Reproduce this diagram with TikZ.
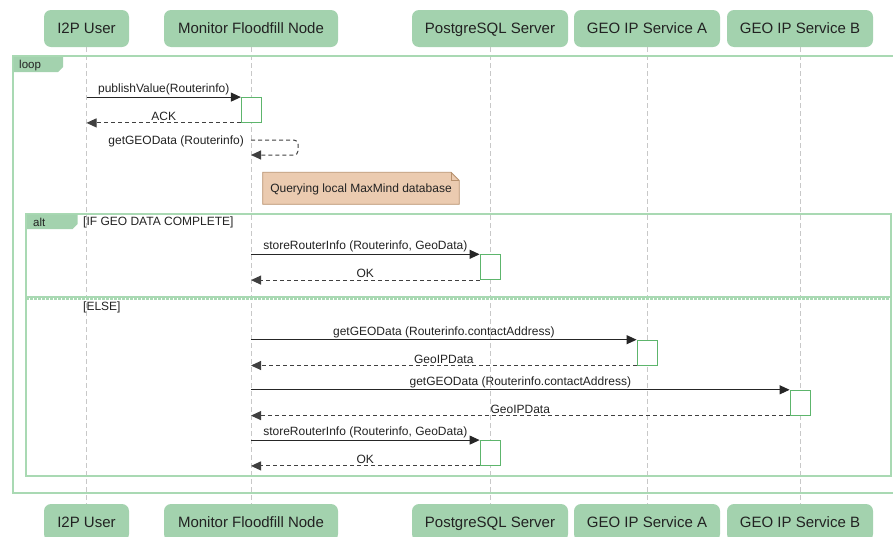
\documentclass[tikz,border=0pt]{standalone}
\usepackage{fontspec}
\setmainfont{Liberation Sans}
\usetikzlibrary{arrows.meta}

\definecolor{hdr}{HTML}{A3D2AE}
\definecolor{frm}{HTML}{A9D9B3}
\definecolor{act}{HTML}{5DB56C}
\definecolor{notefill}{HTML}{EBCBB0}
\definecolor{noteline}{HTML}{B8926F}
\definecolor{life}{HTML}{C8C8C8}
\definecolor{txt}{HTML}{222222}

\begin{document}
\begin{tikzpicture}[x=1pt,y=-1pt,
 participant/.style={fill=hdr, rounded corners=7pt, minimum height=37pt, inner sep=0pt, text height=13pt, text depth=3pt, font=\fontsize{15}{18}\selectfont, text=txt},
 lifeline/.style={draw=life, dash pattern=on 5pt off 3pt, line width=0.8pt},
 actbox/.style={draw=act, fill=white, line width=0.8pt, minimum width=20pt, minimum height=25pt, inner sep=0pt},
 call/.style={draw=black!85, line width=1pt, -{Triangle[length=10pt,width=9pt]}},
 reply/.style={draw=black!75, line width=1pt, dash pattern=on 4pt off 3pt, -{Triangle[length=10pt,width=9pt]}},
 lbl/.style={font=\fontsize{12}{14}\selectfont, text=txt, inner sep=0.5pt},
 frametxt/.style={font=\fontsize{11.5}{14}\selectfont, text=txt, inner sep=0pt},
 framebox/.style={draw=frm, line width=2pt},
 tabfill/.style={fill=hdr},
]
\useasboundingbox (0,0) rectangle (893,536);
\clip (0,0) rectangle (893,536);

% participants
\node[participant, minimum width=85pt]  (u) at (86.5,28.5) {I2P User};
\node[participant, minimum width=174pt] (m) at (251,28.5) {Monitor Floodfill Node};
\node[participant, minimum width=156pt] (p) at (490,28.5) {PostgreSQL Server};
\node[participant, minimum width=146pt] (a) at (647,28.5) {GEO IP Service A};
\node[participant, minimum width=146pt] (b) at (800,28.5) {GEO IP Service B};

\node[participant, minimum width=85pt]  (ub) at (86.5,522.5) {I2P User};
\node[participant, minimum width=174pt] (mb) at (251,522.5) {Monitor Floodfill Node};
\node[participant, minimum width=156pt] (pb) at (490,522.5) {PostgreSQL Server};
\node[participant, minimum width=146pt] (ab) at (647,522.5) {GEO IP Service A};
\node[participant, minimum width=146pt] (bb) at (800,522.5) {GEO IP Service B};

% lifelines
\foreach \t/\bt in {u/ub,m/mb,p/pb,a/ab,b/bb}
  \draw[lifeline] (\t.south) -- (\bt.north);

% loop frame
\draw[framebox] (12.5,56) rectangle (905,493);
\fill[tabfill] (13.5,57) -- (63,57) -- (63,67) -- (58,72) -- (13.5,72) -- cycle;
\node[frametxt, anchor=west] (looplbl) at (19,65.5) {loop};

% alt frame
\draw[framebox] (26,213.5) rectangle (890.5,475.5);
\fill[tabfill] (27,214.5) -- (77.5,214.5) -- (77.5,224) -- (72.5,229) -- (27,229) -- cycle;
\node[frametxt, anchor=west] (altlbl) at (33,222.5) {alt};
\node[lbl, anchor=west, inner sep=0pt] (cond1) at (83,222.5) {[IF GEO DATA COMPLETE]};
\draw[frm, line width=1.6pt] (26,297.2) -- (890.5,297.2);
\draw[frm, line width=1.6pt, dash pattern=on 3pt off 1pt] (26,298.9) -- (890.5,298.9);
\node[lbl, anchor=west, inner sep=0pt] (cond2) at (83,307.5) {[ELSE]};

% note
\draw[noteline, fill=notefill, line width=0.8pt] (262.7,172.3) -- (451,172.3) -- (459.3,180.5) -- (459.3,204.3) -- (262.7,204.3) -- cycle;
\draw[noteline, line width=0.8pt] (451,172.3) -- (451,180.5) -- (459.3,180.5);
\node[lbl] (note) at (361,189) {Querying local MaxMind database};

% activation boxes
\node[actbox] (a1) at (251.3,110) {};
\node[actbox] (a2) at (490,267.2) {};
\node[actbox] (a3) at (647,352.6) {};
\node[actbox] (a4) at (800,402.7) {};
\node[actbox] (a5) at (490,453) {};

% messages
\draw[call] (u |- a1.north) -- node[lbl, above=1pt] {publishValue(Routerinfo)} (a1.north west);
\draw[reply] (a1.south west) -- node[lbl, above=1pt] {ACK} (u |- a1.south);

\coordinate (s1) at (251,140);
\coordinate (s2) at (251,155);
\draw[reply, rounded corners=4pt] (s1) -- (298,140) -- (298,155) -- (s2);
\node[lbl, anchor=east] (selflbl) at (244.5,141.5) {getGEOData (Routerinfo)};

\draw[call] (m |- a2.north) -- node[lbl, above=1pt] {storeRouterInfo (Routerinfo, GeoData)} (a2.north west);
\draw[reply] (a2.south west) -- node[lbl, above=1pt] {OK} (m |- a2.south);

\draw[call] (m |- a3.north) -- node[lbl, above=1pt] {getGEOData (Routerinfo.contactAddress)} (a3.north west);
\draw[reply] (a3.south west) -- node[lbl, above=1pt] {GeoIPData} (m |- a3.south);

\draw[call] (m |- a4.north) -- node[lbl, above=1pt] {getGEOData (Routerinfo.contactAddress)} (a4.north west);
\draw[reply] (a4.south west) -- node[lbl, above=1pt] {GeoIPData} (m |- a4.south);

\draw[call] (m |- a5.north) -- node[lbl, above=1pt] {storeRouterInfo (Routerinfo, GeoData)} (a5.north west);
\draw[reply] (a5.south west) -- node[lbl, above=1pt] {OK} (m |- a5.south);
\end{tikzpicture}
\end{document}
